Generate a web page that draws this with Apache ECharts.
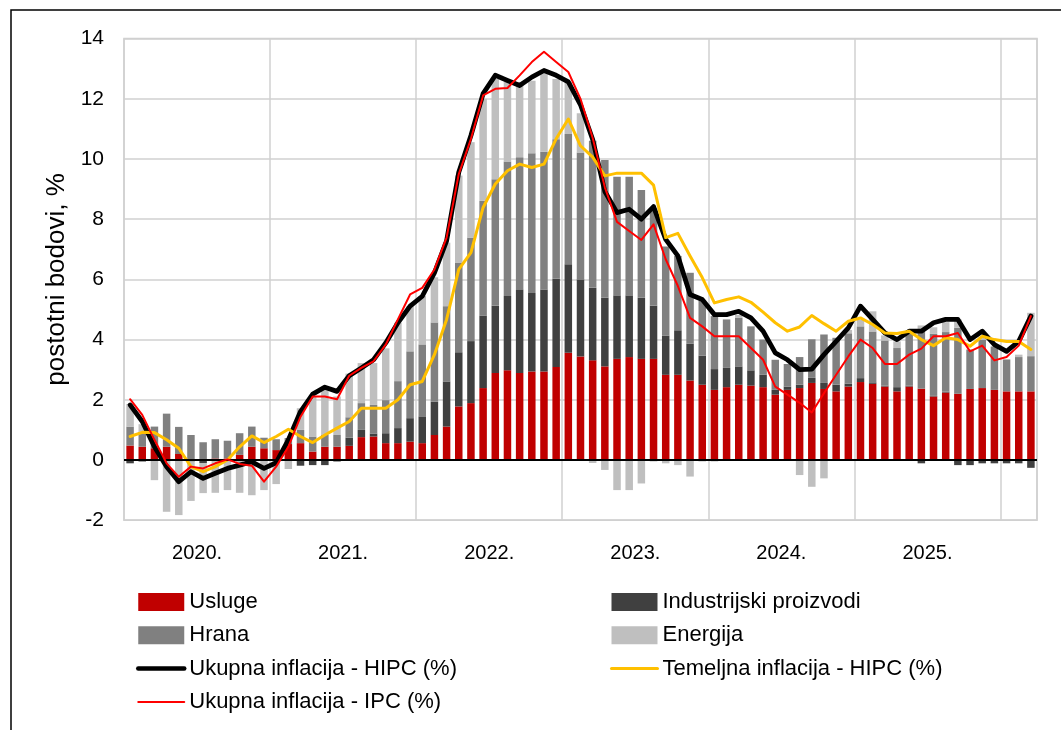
<!DOCTYPE html>
<html>
<head>
<meta charset="utf-8">
<script src="https://cdn.jsdelivr.net/npm/echarts@6/dist/echarts.min.js"></script>
<style>
html,body{margin:0;padding:0;background:#fff;}
#chart{width:1061px;height:730px;}
</style>
</head>
<body>
<div id="chart"></div>
<script>
// Monthly categories Jan 2020 - Mar 2026
const months = [
 '01/2020','02/2020','03/2020','04/2020','05/2020','06/2020','07/2020','08/2020','09/2020','10/2020','11/2020','12/2020',
 '01/2021','02/2021','03/2021','04/2021','05/2021','06/2021','07/2021','08/2021','09/2021','10/2021','11/2021','12/2021',
 '01/2022','02/2022','03/2022','04/2022','05/2022','06/2022','07/2022','08/2022','09/2022','10/2022','11/2022','12/2022',
 '01/2023','02/2023','03/2023','04/2023','05/2023','06/2023','07/2023','08/2023','09/2023','10/2023','11/2023','12/2023',
 '01/2024','02/2024','03/2024','04/2024','05/2024','06/2024','07/2024','08/2024','09/2024','10/2024','11/2024','12/2024',
 '01/2025','02/2025','03/2025','04/2025','05/2025','06/2025','07/2025','08/2025','09/2025','10/2025','11/2025','12/2025',
 '01/2026','02/2026','03/2026'];
const yearLabels = ['2020.','2021.','2022.','2023.','2024.','2025.'];

const usluge = [0.48,0.44,0.39,0.44,0.2,0.03,0.02,0.05,0.05,0.17,0.44,0.39,
 0.33,0.53,0.56,0.28,0.44,0.44,0.47,0.76,0.78,0.56,0.56,0.61,
 0.56,0.83,1.11,1.78,1.89,2.39,2.89,2.98,2.89,2.94,2.94,3.09,
 3.56,3.44,3.31,3.11,3.36,3.42,3.36,3.36,2.83,2.83,2.64,2.5,
 2.33,2.42,2.5,2.47,2.42,2.17,2.33,2.39,2.56,2.36,2.28,2.44,
 2.59,2.53,2.44,2.28,2.44,2.37,2.11,2.24,2.2,2.36,2.39,2.33,
 2.28,2.28,2.28];
const industrija = [-0.11,-0.05,0,0,0,-0.05,-0.1,0,0,0,0,0,
 0,0,-0.19,-0.17,-0.17,-0.05,0.27,0.24,0.1,0.33,0.5,0.78,
 0.89,1.11,1.5,1.8,2.06,2.41,2.24,2.47,2.78,2.61,2.72,2.93,
 2.94,2.56,2.41,2.28,2.11,2.05,2.03,1.77,1.3,1.48,1.22,0.97,
 0.69,0.64,0.61,0.51,0.41,0.16,0.11,0.11,0.17,0.2,0.22,0.1,
 0.13,0.05,0.03,0.14,0.03,-0.11,0.02,0.03,-0.17,-0.17,-0.11,-0.11,
 -0.11,-0.11,-0.26];
const hrana = [0.63,0.5,0.72,1.1,0.9,0.8,0.57,0.64,0.59,0.72,0.67,0.35,
 0.36,0.2,0.44,0.5,0.39,0.39,0.68,0.89,0.95,1.1,1.56,2.22,
 2.39,2.63,2.5,2.98,3.44,3.81,4.2,4.47,4.39,4.64,4.58,4.64,
 4.33,4.22,4.89,4.58,3.94,3.94,3.58,3.23,2.96,2.47,2.36,1.83,
 1.76,1.61,1.61,1.46,1.17,1.0,0.75,0.92,1.28,1.61,1.56,1.67,
 1.72,1.69,1.5,1.3,1.72,1.91,2.06,1.98,2.19,1.31,1.61,1.44,
 1.06,1.14,1.17];
const energija = [0.75,0.25,-0.67,-1.72,-1.83,-1.31,-1.0,-1.09,-1.0,-1.09,-1.17,-1.0,
 -0.8,-0.3,0.72,1.33,1.5,1.28,1.45,1.33,1.39,1.72,1.94,1.5,
 1.61,1.5,2.11,2.89,3.17,3.39,3.33,2.64,2.5,2.41,2.64,2.0,
 1.72,1.3,-0.1,-0.33,-1.0,-1.0,-0.78,-0.05,-0.11,-0.17,-0.55,-0.05,
 -0.05,0,0.1,0,0,0,0,-0.5,-0.89,-0.61,0,0.11,
 0.22,0.67,0.17,0.22,0.05,0.19,0.22,0.33,0.28,0,0.1,0,
 0,0.08,1.44];
const hipc = [1.83,1.28,0.44,-0.22,-0.72,-0.39,-0.61,-0.44,-0.28,-0.17,-0.06,-0.28,
 -0.09,0.67,1.61,2.19,2.42,2.28,2.8,3.06,3.33,3.89,4.56,5.11,
 5.44,6.22,7.28,9.56,10.78,12.17,12.78,12.61,12.44,12.72,12.94,12.78,
 12.56,11.8,10.65,8.92,8.22,8.33,8.0,8.42,7.33,6.78,5.5,5.33,
 4.83,4.83,4.94,4.72,4.28,3.56,3.33,3.0,3.02,3.5,3.94,4.39,
 5.11,4.67,4.22,4.0,4.28,4.28,4.56,4.67,4.67,4.0,4.28,3.83,
 3.61,3.94,4.78];
const temeljna = [0.78,0.92,0.91,0.67,0.39,-0.22,-0.39,-0.22,0.0,0.44,0.8,0.58,
 0.78,1.02,0.78,0.58,0.83,1.06,1.28,1.72,1.72,1.72,2.0,2.5,
 2.61,3.5,4.67,6.33,6.89,8.39,9.17,9.61,9.83,9.72,9.83,10.67,
 11.33,10.44,10.06,9.44,9.53,9.53,9.53,9.13,7.39,7.53,6.78,6.06,
 5.22,5.33,5.42,5.24,4.91,4.56,4.28,4.42,4.8,4.53,4.28,4.61,
 4.72,4.5,4.22,4.2,4.28,4.0,3.8,4.06,4.0,3.78,4.11,4.0,
 3.94,3.94,3.67];
const ipc = [2.02,1.5,0.67,-0.11,-0.56,-0.22,-0.28,-0.11,0.02,-0.13,-0.19,-0.72,
 -0.22,0.44,1.44,2.11,2.11,2.02,2.8,3.06,3.28,3.83,4.67,5.5,
 5.72,6.33,7.39,9.5,10.67,12.11,12.33,12.36,12.78,13.22,13.56,13.22,
 12.89,12.0,10.7,9.06,7.91,7.61,7.31,7.83,6.67,5.78,4.72,4.44,
 4.11,4.11,4.11,3.72,3.33,2.44,2.17,1.9,1.58,2.22,2.83,3.44,
 4.0,3.72,3.19,3.19,3.5,3.7,4.11,4.11,4.22,3.61,3.8,3.31,
 3.42,3.8,4.78];

const FONT = "'Liberation Sans', Arial, sans-serif";
const chart = echarts.init(document.getElementById('chart'), null, {renderer:'canvas'});

function barSeries(name, data, color, extra){
  return Object.assign({
    name: name, type: 'bar', stack: 'k', data: data, barWidth: 7.5,
    itemStyle: {color: color}, emphasis: {disabled: true}
  }, extra || {});
}
function lineSeries(name, data, color, width, z){
  return {
    name: name, type: 'line', data: data, symbol: 'none', showSymbol: false,
    lineStyle: {color: color, width: width, join: 'round', cap: 'round'},
    itemStyle: {color: color}, z: z, emphasis: {disabled: true}
  };
}
const noSym = {opacity: 0};
const legendText = {fontSize: 22, color: '#000', fontFamily: FONT};

const option = {
  animation: false,
  backgroundColor: '#fff',
  textStyle: {fontFamily: FONT, color: '#000'},
  grid: {left: 124, right: 24, top: 38.6, bottom: 209.8, show: true, borderColor: '#D0D0D0', borderWidth: 1.5, backgroundColor: 'transparent'},
  legend: [
    {
      left: 136, top: 591, orient: 'vertical', itemGap: 11.3, itemWidth: 46, itemHeight: 18, padding: 0,
      textStyle: legendText,
      data: [{name:'Usluge', icon:'rect'}, {name:'Hrana', icon:'rect'},
             {name:'Ukupna inflacija - HIPC (%)', itemStyle: noSym, lineStyle: {color: '#000000', width: 4.5}},
             {name:'Ukupna inflacija - IPC (%)', itemStyle: noSym, lineStyle: {color: '#FF0000', width: 2}}]
    },
    {
      left: 610, top: 591, orient: 'vertical', itemGap: 11.3, itemWidth: 46, itemHeight: 18, padding: 0,
      textStyle: legendText,
      data: [{name:'Industrijski proizvodi', icon:'rect'}, {name:'Energija', icon:'rect'},
             {name:'Temeljna inflacija - HIPC (%)', itemStyle: noSym, lineStyle: {color: '#FFC000', width: 3}}]
    }
  ],
  xAxis: {
    type: 'category', data: months, boundaryGap: true,
    axisLine: {show: false, onZero: false}, axisTick: {show: false},
    splitLine: {show: true, interval: function(i){ return i % 12 === 0; }, lineStyle: {color: '#D0D0D0', width: 1.5}},
    axisLabel: {
      interval: function(i){ return i % 12 === 6; },
      formatter: function(v, i){ return yearLabels[Math.floor(i/12)] || ''; },
      fontSize: 20, color: '#000', fontFamily: FONT, margin: 23, padding: [0, 12.17, 0, 0]
    }
  },
  yAxis: {
    type: 'value', min: -2, max: 14, interval: 2,
    axisLine: {show: false}, axisTick: {show: false},
    splitLine: {lineStyle: {color: '#D0D0D0', width: 1.5}},
    axisLabel: {fontSize: 21, color: '#000', fontFamily: FONT, margin: 20},
    name: 'postotni bodovi, %', nameLocation: 'middle', nameGap: 43,
    nameTextStyle: {fontSize: 26, color: '#000', fontFamily: FONT}
  },
  graphic: [{
    type: 'rect', shape: {x: 11, y: 10, width: 1100, height: 800},
    style: {fill: 'none', stroke: '#000', lineWidth: 1.5}, silent: true, z: 100
  }],
  series: [
    barSeries('Usluge', usluge, '#C00000'),
    barSeries('Industrijski proizvodi', industrija, '#404040'),
    barSeries('Hrana', hrana, '#808080'),
    barSeries('Energija', energija, '#BFBFBF', {
      markLine: {silent: true, symbol: ['none','none'], label: {show: false},
        lineStyle: {color: '#000', width: 2, type: 'solid'}, data: [{yAxis: 0}]}
    }),
    lineSeries('Ukupna inflacija - HIPC (%)', hipc, '#000000', 4.8, 3),
    lineSeries('Temeljna inflacija - HIPC (%)', temeljna, '#FFC000', 3, 4),
    lineSeries('Ukupna inflacija - IPC (%)', ipc, '#FF0000', 2, 5)
  ]
};
chart.setOption(option);
</script>
</body>
</html>
